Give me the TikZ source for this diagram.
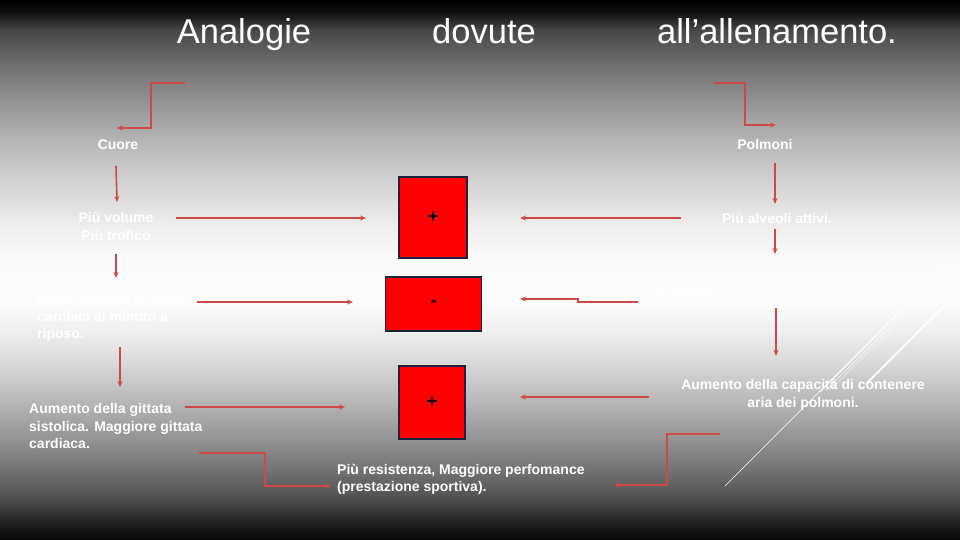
\documentclass[tikz,border=0pt]{standalone}
\usepackage{fontspec}
\setmainfont{Liberation Sans}
\usetikzlibrary{arrows.meta}
\definecolor{arr}{RGB}{205,72,72}
\definecolor{boxred}{RGB}{255,0,0}
\definecolor{boxline}{RGB}{30,34,60}
\begin{document}
\begin{tikzpicture}[x=1pt,y=-1pt,
  conn/.style={draw=arr, line width=1.6pt, line join=miter, -{Stealth[length=6pt,width=5pt]}},
  lbl/.style={text=white, font=\bfseries\fontsize{14}{17.5}\selectfont, inner sep=0pt},
  ttl/.style={text=white, font=\fontsize{34.5}{38}\selectfont, inner sep=0pt, anchor=base},
  signbox/.style={draw=boxline, line width=1.8pt, fill=boxred, inner sep=0pt, font=\bfseries\fontsize{18}{18}\selectfont},
  streak/.style={draw=white, line cap=round}
]
\useasboundingbox (0,0) rectangle (960,540);
% background gradient
\foreach \ya/\ga/\yb/\gb in {0/0/12/6, 12/6/30/28, 30/28/60/42, 60/42/100/57, 100/57/140/71, 140/71/180/82, 180/82/220/92, 220/92/255/98, 255/98/300/99, 300/99/330/94, 330/94/360/86, 360/86/400/72, 400/72/440/57, 440/57/470/45, 470/45/500/30, 500/30/520/15, 520/15/540/2}
  \shade[top color=white!\ga!black, bottom color=white!\gb!black] (0,\ya) rectangle (960,\yb+0.6);

% white streaks
\draw[streak, line width=0.6pt] (725,486) -- (960,251);
\draw[streak, line width=1pt, opacity=0.8] (820,392) -- (960,252);
\draw[streak, line width=0.6pt, opacity=0.8] (826,390) -- (960,258);
\draw[streak, line width=0.5pt, opacity=0.7] (832,388) -- (960,262);
\draw[streak, line width=2pt, opacity=0.9] (867,383) -- (960,290);

% titles
\node[ttl] (t1) at (244,44) {Analogie};
\node[ttl] (t2) at (484,44) {dovute};
\node[ttl] (t3) at (777,44) {all'allenamento.};

% red boxes
\node[signbox, minimum width=68pt, minimum height=81pt] (b1) at (433,217.5) {+};
\node[signbox, minimum width=96pt, minimum height=54pt] (b2) at (433.5,304) {-};
\node[signbox, minimum width=66pt, minimum height=73pt] (b3) at (432,402.5) {+};

% labels
\node[lbl, anchor=base] (cuore) at (118,150) {Cuore};
\node[lbl, anchor=base] (polm) at (765,150) {Polmoni};
\node[lbl, align=center] (vol) at (116,226.5) {Più volume\\Più trofico};
\node[lbl, align=left, anchor=west] (minor) at (37,317.5) {Minor numero di battiti\\cardiaci al minuto a\\riposo.};
\node[lbl, align=left, anchor=west] (aum) at (29,426) {Aumento della gittata\\sistolica. Maggiore gittata\\cardiaca.};
\node[lbl, anchor=base] (alv) at (777,223) {Più alveoli attivi.};
\node[lbl, anchor=base west] (rip) at (657,297) {a riposo.};
\node[lbl, align=center] (cap) at (803,395) {Aumento della capacità di contenere\\aria dei polmoni.};
\node[lbl, align=left, anchor=west] (res) at (337,479.5) {Più resistenza, Maggiore perfomance\\(prestazione sportiva).};

% connector coordinates
\coordinate (tl0) at (185,83); \coordinate (tl1) at (151,83); \coordinate (tl2) at (151,128); \coordinate (tl3) at (117,128);
\coordinate (tr0) at (714,83); \coordinate (tr1) at (745,83); \coordinate (tr2) at (745,125); \coordinate (tr3) at (776,125);
\coordinate (lv1a) at (116,166); \coordinate (lv1b) at (117,202);
\coordinate (lv2a) at (116,254); \coordinate (lv2b) at (116,278);
\coordinate (lv3a) at (120,347); \coordinate (lv3b) at (120,387);
\coordinate (rv1a) at (775,163); \coordinate (rv1b) at (775,204);
\coordinate (rv2a) at (775,229); \coordinate (rv2b) at (775,254);
\coordinate (rv3a) at (776,308); \coordinate (rv3b) at (776,356);
\coordinate (lh1a) at (176,218); \coordinate (lh1b) at (366,218);
\coordinate (lh2a) at (197,302); \coordinate (lh2b) at (353,302);
\coordinate (lh3a) at (185,407); \coordinate (lh3b) at (345,407);
\coordinate (rh1a) at (681,218); \coordinate (rh1b) at (520,218);
\coordinate (rh2a) at (638,302); \coordinate (rh2m) at (578,302); \coordinate (rh2n) at (578,299); \coordinate (rh2b) at (520,299);
\coordinate (rh3a) at (649,397); \coordinate (rh3b) at (520,397);
\coordinate (bl0) at (199,453); \coordinate (bl1) at (265,453); \coordinate (bl2) at (265,486); \coordinate (bl3) at (331,486);
\coordinate (br0) at (720,434); \coordinate (br1) at (667,434); \coordinate (br2) at (667,485); \coordinate (br3) at (614,485);

% connectors
\draw[conn] (tl0) -- (tl1) -- (tl2) -- (tl3);
\draw[conn] (tr0) -- (tr1) -- (tr2) -- (tr3);
\draw[conn] (lv1a) -- (lv1b);
\draw[conn] (lv2a) -- (lv2b);
\draw[conn] (lv3a) -- (lv3b);
\draw[conn] (rv1a) -- (rv1b);
\draw[conn] (rv2a) -- (rv2b);
\draw[conn] (rv3a) -- (rv3b);
\draw[conn] (lh1a) -- (lh1b);
\draw[conn] (lh2a) -- (lh2b);
\draw[conn] (lh3a) -- (lh3b);
\draw[conn] (rh1a) -- (rh1b);
\draw[conn] (rh2a) -- (rh2m) -- (rh2n) -- (rh2b);
\draw[conn] (rh3a) -- (rh3b);
\draw[conn] (bl0) -- (bl1) -- (bl2) -- (bl3);
\draw[conn] (br0) -- (br1) -- (br2) -- (br3);
\end{tikzpicture}
\end{document}
